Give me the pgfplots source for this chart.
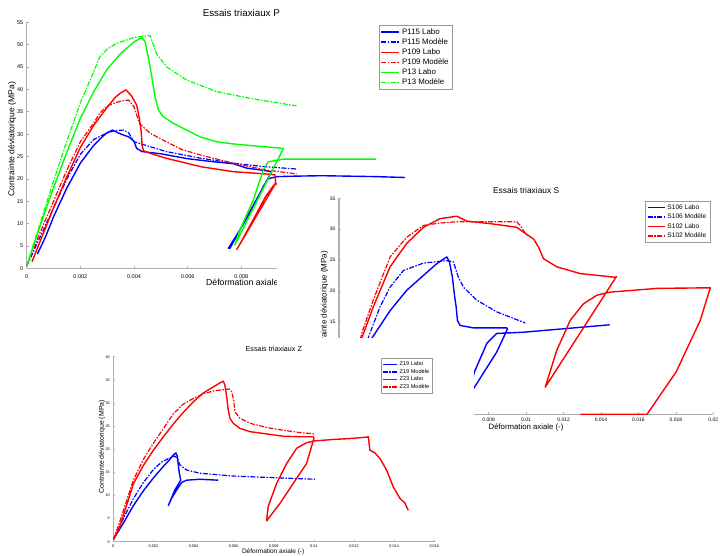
\documentclass[border=0pt]{standalone}
\usepackage{pgfplots}
\pgfplotsset{compat=1.18}
\usepackage{fontspec}
\setmainfont{Liberation Sans}
\definecolor{mblue}{RGB}{0,0,255}
\definecolor{mred}{RGB}{255,0,0}
\definecolor{mgreen}{RGB}{0,255,0}
\definecolor{axgray}{RGB}{175,175,175}
\tikzset{
  cB/.style={draw=mblue},
  cR/.style={draw=mred},
  cG/.style={draw=mgreen},
  lab/.style={line width=1.4pt, line join=round},
  mdl/.style={line width=1.2pt, dash pattern=on 5bp off 1.5bp on 1.5bp off 1.5bp},
}
\pgfplotsset{
  mstyle/.style={
    scale only axis, axis lines*=left, axis line style={-,axgray,line width=1.2pt},
    tick align=inside, major tick length=2bp, tick style={axgray,line width=0.6pt},
    /pgf/number format/assume math mode=true,
    legend cell align=left,
    legend style={draw=gray!80, fill=white, anchor=north east, inner sep=1.5bp},
    scaled ticks=false,
  },
}
\begin{document}
\begin{tikzpicture}
\path[use as bounding box] (0bp,0bp) rectangle (720bp,556bp);
% ---------------- P ----------------
\begin{axis}[mstyle,
  at={(26.7bp,287.7bp)}, anchor=south west, width=429.2bp, height=246bp,
  xmin=0, xmax=0.016, ymin=0, ymax=55,
  xtick={0,0.002,0.004,0.006,0.008,0.01,0.012,0.014,0.016},
  xticklabels={0,0.002,0.004,0.006,0.008,0.01,0.012,0.014,0.016},
  ytick={0,5,...,55},
  ticklabel style={font=\fontsize{5.5}{6}\selectfont},
  xticklabel style={yshift=-2.5bp},
  title={Essais triaxiaux P}, title style={font=\fontsize{9.8}{11}\selectfont, at={(axis description cs:0.5,1)}, anchor=south, yshift=-4bp},
  xlabel={Déformation axiale (-)}, xlabel style={font=\fontsize{8.7}{10}\selectfont, at={(axis description cs:0.41,-0.061)}, anchor=west},
  ylabel={Contrainte déviatorique (MPa)}, ylabel style={font=\fontsize{8.6}{10}\selectfont, at={(axis description cs:-0.034,0.525)}, anchor=center},
  legend style={at={(axis description cs:0.9916,0.989)}, font=\fontsize{7.9}{8.6}\selectfont, row sep=-1.2bp},
  legend image code/.code={\draw[#1, line width=1.7pt] (0bp,0bp) -- (18bp,0bp);},
]
\addplot[cB, lab] coordinates {(0.0004,3.2)(0.0007,7)(0.001,11.5)(0.0015,18)(0.002,23.5)(0.0025,27.5)(0.0028,29.3)(0.003,30.3)(0.0032,30.9)(0.0034,30.3)(0.0036,29.8)(0.0038,29.4)(0.0039,28.9)(0.004,28.4)(0.0041,26.8)(0.0043,26.1)(0.005,25.6)(0.006,24.5)(0.007,23.8)(0.0077,23.4)(0.0082,22.4)(0.0087,22)(0.00913,21.6)(0.00758,4.5)(0.00752,4.5)(0.00795,8.6)(0.00845,13.8)(0.00882,18.3)(0.009,20)(0.00932,20.5)(0.01,20.6)(0.011,20.7)(0.012,20.6)(0.013,20.5)(0.0141,20.3)};
\addlegendentry{P115 Labo}
\addplot[cB, mdl] coordinates {(0,0.5)(0.0005,7)(0.001,13.5)(0.0015,20)(0.002,25.5)(0.0025,28.8)(0.003,30.3)(0.0033,30.8)(0.0036,30.9)(0.0038,30.3)(0.004,28.3)(0.0046,27.2)(0.0052,26.1)(0.0065,24.6)(0.0077,23.5)(0.0089,22.7)(0.01006,22.2)};
\addlegendentry{P115 Modèle}
\addplot[cR, lab] coordinates {(0.0002,1.5)(0.0005,6)(0.001,13.5)(0.0015,20.5)(0.002,27)(0.0025,32)(0.003,36)(0.0033,38.2)(0.0035,39.2)(0.0037,39.9)(0.0039,38.6)(0.0041,36.5)(0.0042,33.5)(0.00427,30.5)(0.0043,27.5)(0.00435,26.3)(0.0046,25.7)(0.0052,24.6)(0.0065,22.7)(0.0077,21.6)(0.0089,21.1)(0.00925,20.9)(0.00928,19.5)(0.00925,18.7)(0.00783,4.2)(0.008,6)(0.0085,11.5)(0.0089,16)(0.0092,18.5)(0.0095,19.5)};
\addlegendentry{P109 Labo}
\addplot[cR, mdl] coordinates {(0,0.5)(0.0005,8)(0.001,15)(0.0015,22)(0.002,28.3)(0.0025,32.5)(0.00273,34.7)(0.003,36.3)(0.0033,37)(0.0036,37.5)(0.0038,37.6)(0.004,36.1)(0.0042,32.4)(0.0046,30.2)(0.0052,28.3)(0.0058,26.5)(0.0065,25.3)(0.0077,23.5)(0.0089,22)(0.01006,21.1)};
\addlegendentry{P109 Modèle}
\addplot[cG, lab] coordinates {(0,0.5)(0.0005,9.5)(0.001,18)(0.0015,26)(0.002,33.5)(0.0025,39.5)(0.003,44.5)(0.0035,48)(0.004,50.6)(0.0042,51.3)(0.0043,51.5)(0.00441,50.7)(0.00453,47.3)(0.00466,42.9)(0.00478,38.4)(0.00491,35.4)(0.00509,33.9)(0.00547,32.4)(0.00596,30.9)(0.00646,29.4)(0.00708,28.3)(0.0077,27.8)(0.00845,27.4)(0.00957,26.8)(0.00776,5.2)(0.00795,8.6)(0.00845,15.3)(0.00882,22)(0.009,23.8)(0.00957,24.4)(0.011,24.4)(0.01302,24.4)};
\addlegendentry{P13 Labo}
\addplot[cG, mdl] coordinates {(0,0.5)(0.0005,10)(0.001,19.5)(0.0015,28.5)(0.002,37)(0.0025,44)(0.00273,47.3)(0.003,49)(0.00335,50.3)(0.004,51.6)(0.0045,52)(0.0046,52)(0.00484,48)(0.00522,45)(0.00596,42.1)(0.00708,39.5)(0.00832,38)(0.01006,36.3)};
\addlegendentry{P13 Modèle}
\end{axis}
\fill[white] (277bp,0bp) rectangle (720bp,375bp);
% ---------------- S ----------------
\begin{axis}[mstyle,
  at={(339bp,141.7bp)}, anchor=south west, width=374.3bp, height=216bp,
  xmin=0, xmax=0.02, ymin=0, ymax=35,
  xtick={0,0.002,0.004,0.006,0.008,0.01,0.012,0.014,0.016,0.018,0.02},
  xticklabels={0,0.002,0.004,0.006,0.008,0.01,0.012,0.014,0.016,0.018,0.02},
  ytick={0,5,...,35},
  ticklabel style={font=\fontsize{5}{6}\selectfont},
  title={Essais triaxiaux S}, title style={font=\fontsize{8.4}{10}\selectfont, at={(axis description cs:0.5,1)}, anchor=south, yshift=-4.5bp},
  xlabel={Déformation axiale (-)}, xlabel style={font=\fontsize{7.8}{9}\selectfont, at={(axis description cs:0.4996,-0.06)}, anchor=center},
  ylabel={Contrainte déviatorique (MPa)}, ylabel style={font=\fontsize{8}{9}\selectfont, at={(axis description cs:-0.039,0.51)}, anchor=center},
  legend style={at={(axis description cs:0.991,0.989)}, font=\fontsize{6.6}{7.4}\selectfont, row sep=-0.8bp},
  legend image code/.code={\draw[#1, line width=1.6pt] (0bp,0bp) -- (17bp,0bp);},
]
\addplot[cB, lab] coordinates {(0.0008,0)(0.0012,5)(0.00175,12.3)(0.00273,16.8)(0.00362,20.1)(0.00451,22.5)(0.00522,24.4)(0.00576,25.5)(0.0059,24.7)(0.00606,22.2)(0.00617,19.3)(0.00626,17.4)(0.00633,15.2)(0.00647,14.4)(0.00718,14.0)(0.00897,14.0)(0.009,13.8)(0.00843,10.1)(0.00724,4.4)(0.0068,2.5)(0.0069,3)(0.00724,6.9)(0.0079,11.5)(0.00816,12.3)(0.00843,13.1)(0.00986,13.3)(0.01446,14.5)};
\addlegendentry{S106 Labo}
\addplot[cB, mdl] coordinates {(0.0006,0)(0.001,6)(0.00157,12.5)(0.00219,17.4)(0.00273,20.6)(0.00344,23.3)(0.00451,24.5)(0.00576,24.9)(0.00611,24.7)(0.00638,22.2)(0.00665,20.6)(0.00736,18.5)(0.00843,16.6)(0.00995,14.8)};
\addlegendentry{S106 Modèle}
\addplot[cR, lab] coordinates {(0.0004,0)(0.0008,6)(0.00121,12.3)(0.00183,17.4)(0.00273,23.9)(0.00362,27.7)(0.00451,30.3)(0.0054,31.7)(0.0063,32.1)(0.00656,31.7)(0.00683,31.3)(0.00807,30.9)(0.0095,30.3)(0.00986,29.5)(0.0104,28.4)(0.01066,27.1)(0.01093,25.2)(0.01164,23.9)(0.01289,22.8)(0.01476,22.2)(0.01482,22.3)(0.01102,4.4)(0.01164,10.4)(0.01235,15.2)(0.01306,17.9)(0.01378,19.3)(0.01449,19.8)(0.01699,20.4)(0.01984,20.5)(0.0193,15.2)(0.01802,6.9)(0.01646,0)(0.0129,0)};
\addlegendentry{S102 Labo}
\addplot[cR, mdl] coordinates {(0.0003,0)(0.0007,6)(0.00121,13.1)(0.00183,18.5)(0.00273,25.5)(0.00362,28.7)(0.00451,30.6)(0.0054,31.0)(0.0063,31.2)(0.0095,31.2)(0.00968,30.6)(0.01003,29.0)};
\addlegendentry{S102 Modèle}
\end{axis}
\fill[white] (100bp,0bp) rectangle (474bp,218bp);
% ---------------- Z ----------------
\begin{axis}[mstyle,
  at={(113.3bp,14.3bp)}, anchor=south west, width=321bp, height=185bp,
  xmin=0, xmax=0.016, ymin=0, ymax=40,
  xtick={0,0.002,0.004,0.006,0.008,0.01,0.012,0.014,0.016},
  xticklabels={0,0.002,0.004,0.006,0.008,0.01,0.012,0.014,0.016},
  ytick={0,5,...,40},
  ticklabel style={font=\fontsize{3.8}{4.5}\selectfont},
  title={Essais triaxiaux Z}, title style={font=\fontsize{7.2}{8.5}\selectfont, at={(axis description cs:0.5,1)}, anchor=south, yshift=-4bp},
  xlabel={Déformation axiale (-)}, xlabel style={font=\fontsize{6.5}{7.5}\selectfont, at={(axis description cs:0.498,-0.057)}, anchor=center},
  ylabel={Contrainte déviatorique (MPa)}, ylabel style={font=\fontsize{7}{8}\selectfont, at={(axis description cs:-0.035,0.514)}, anchor=center},
  legend style={at={(axis description cs:0.9938,0.991)}, font=\fontsize{5.6}{6}\selectfont, inner sep=1bp, row sep=-2bp},
  legend image code/.code={\draw[#1, line width=1.4pt] (0bp,0bp) -- (14bp,0bp);},
]
\addplot[cB, lab] coordinates {(0,0.5)(0.0005,4)(0.001,7.8)(0.0015,11)(0.002,13.8)(0.0025,16.3)(0.0028,17.7)(0.003,18.8)(0.00312,19.2)(0.00319,18.5)(0.00324,16.6)(0.00329,14.8)(0.00336,13.3)(0.00307,11.2)(0.00274,7.8)(0.00291,9.4)(0.00316,11.2)(0.00341,12.8)(0.00365,13.3)(0.00432,13.5)(0.00523,13.3)};
\addlegendentry{Z19 Labo}
\addplot[cB, mdl] coordinates {(0,0.4)(0.0005,5)(0.001,9.3)(0.0015,12.8)(0.002,15.6)(0.0024,17.2)(0.0028,18.1)(0.00307,18.5)(0.0032,18)(0.00332,16.6)(0.00365,15.5)(0.00432,14.8)(0.00598,14.2)(0.00764,13.9)(0.01005,13.5)};
\addlegendentry{Z19 Modèle}
\addplot[cR, lab] coordinates {(0,0.4)(0.0003,3)(0.0006,7)(0.001,12.5)(0.0015,16.5)(0.002,19.8)(0.0025,22.7)(0.003,25.5)(0.0035,28)(0.004,30.3)(0.0045,32.2)(0.005,33.5)(0.0053,34.3)(0.00548,34.7)(0.00556,33.9)(0.00565,31.4)(0.00573,28.5)(0.00581,26.7)(0.00598,25.6)(0.00631,24.5)(0.00681,23.8)(0.00764,23.3)(0.00847,22.8)(0.0093,22.7)(0.00997,22.7)(0.01,22.3)(0.00963,16.9)(0.00897,12.6)(0.00831,8.3)(0.00764,4.5)(0.00772,7.6)(0.00814,12.6)(0.00864,16.9)(0.00914,20.2)(0.00963,21.4)(0.01005,21.8)(0.01096,22.1)(0.01179,22.3)(0.01262,22.6)(0.01271,22.7)(0.01279,19.8)(0.01304,19.2)(0.01329,18)(0.01362,15.5)(0.01395,11.9)(0.01428,9.4)(0.01453,8.4)(0.0147,6.8)};
\addlegendentry{Z23 Labo}
\addplot[cR, mdl] coordinates {(0,0.4)(0.0003,4)(0.0006,8)(0.001,13.3)(0.0015,17.8)(0.002,21.3)(0.0025,24.5)(0.003,27.7)(0.0035,29.8)(0.004,31)(0.0045,32)(0.005,32.6)(0.0055,32.9)(0.0058,33)(0.0059,32.4)(0.006,30.6)(0.00606,28.1)(0.00631,26.7)(0.00681,25.6)(0.00764,24.7)(0.00847,24.1)(0.0093,23.6)(0.01005,23.3)};
\addlegendentry{Z23 Modèle}
\end{axis}
\end{tikzpicture}
\end{document}
